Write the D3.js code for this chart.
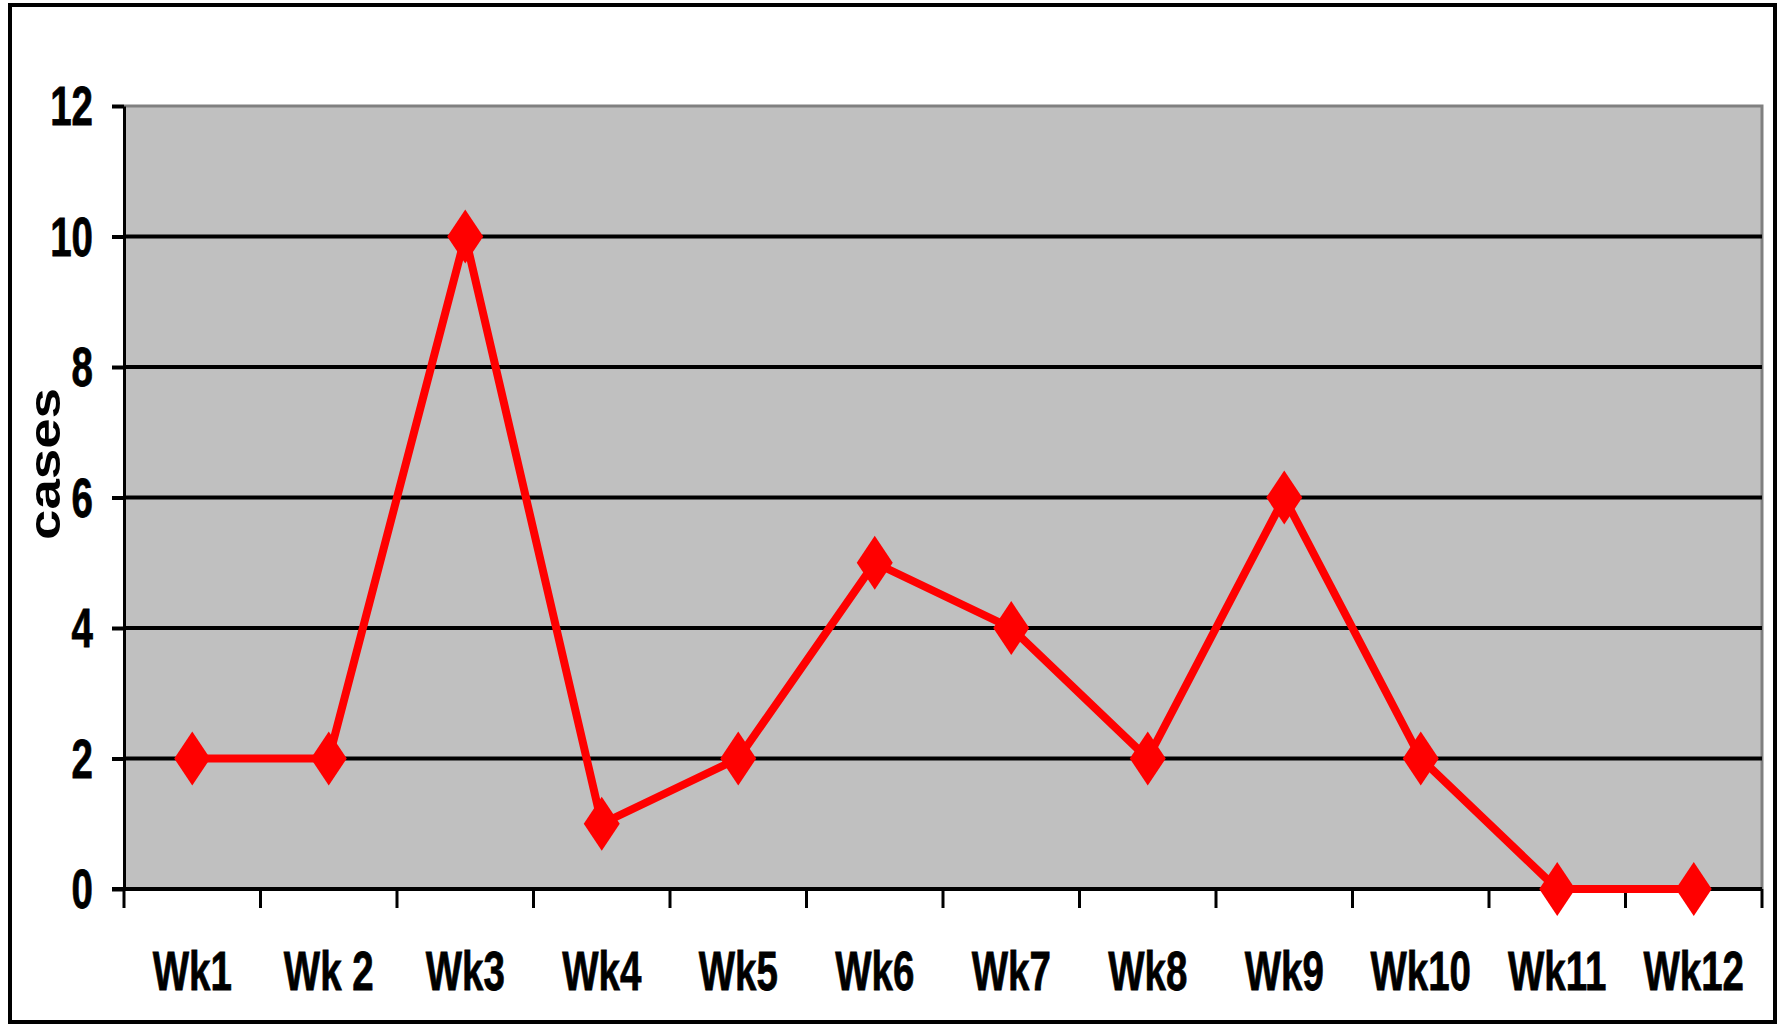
<!DOCTYPE html>
<html>
<head>
<meta charset="utf-8">
<script src="https://cdn.jsdelivr.net/npm/d3@7"></script>
<style>
  body { margin: 0; background: #fff; }
  svg { display: block; }
  text { font-family: "Liberation Sans", Arial, sans-serif; font-weight: bold; fill: #000; }
</style>
</head>
<body>
<svg width="1783" height="1024"></svg>
<script>
// data
const weeks = ["Wk1", "Wk 2", "Wk3", "Wk4", "Wk5", "Wk6", "Wk7", "Wk8", "Wk9", "Wk10", "Wk11", "Wk12"];
const cases = [2, 2, 10, 1, 2, 5, 4, 2, 6, 2, 0, 0];
const yTicks = [0, 2, 4, 6, 8, 10, 12];

const svg = d3.select("svg");
const squeeze = 0.7; // narrow look of the original labels

// plot box
const plotL = 124, plotR = 1762, plotT = 106, plotB = 889;

// outer frame
svg.append("rect")
  .attr("x", 10).attr("y", 5)
  .attr("width", 1765).attr("height", 1017)
  .attr("fill", "none")
  .attr("stroke", "#000")
  .attr("stroke-width", 4);

const x = d3.scaleBand().domain(weeks).range([plotL, plotR]);
const y = d3.scaleLinear().domain([0, 12]).range([plotB, plotT]);

// grey plot area
svg.append("rect")
  .attr("x", plotL).attr("y", plotT)
  .attr("width", plotR - plotL).attr("height", plotB - plotT)
  .attr("fill", "#c0c0c0");

// top + right edge of plot area
svg.append("path")
  .attr("d", `M${plotL},${plotT}H${plotR}V${plotB}`)
  .attr("fill", "none")
  .attr("stroke", "#808080")
  .attr("stroke-width", 3);

// gridlines
svg.append("g")
  .selectAll("line")
  .data(yTicks.filter(d => d > 0 && d < 12))
  .enter().append("line")
    .attr("x1", plotL).attr("x2", plotR)
    .attr("y1", d => y(d)).attr("y2", d => y(d))
    .attr("stroke", "#000")
    .attr("stroke-width", 4);

// y axis (labels drawn separately so they can be squeezed)
const yAxis = svg.append("g")
  .attr("transform", `translate(${plotL},0)`)
  .call(d3.axisLeft(y).tickValues(yTicks).tickSize(12).tickFormat("").tickSizeOuter(0));
yAxis.select(".domain").attr("stroke", "#000").attr("stroke-width", 3);
yAxis.selectAll(".tick line").attr("stroke", "#000").attr("stroke-width", 4);

svg.append("g")
  .selectAll("text")
  .data(yTicks)
  .enter().append("text")
    .attr("transform", d => `translate(93,${y(d) + 19}) scale(${squeeze},1)`)
    .attr("text-anchor", "end")
    .attr("font-size", 55)
    .attr("stroke", "#000")
    .attr("stroke-width", 0.8)
    .text(d => d);

// x axis: ticks at band edges
const xAxis = svg.append("g");
xAxis.append("line")
  .attr("x1", plotL - 12).attr("x2", plotR)
  .attr("y1", plotB).attr("y2", plotB)
  .attr("stroke", "#000").attr("stroke-width", 4);
const edges = weeks.map(w => x(w)).concat([plotR]);
xAxis.selectAll(".xt")
  .data(edges)
  .enter().append("line")
    .attr("class", "xt")
    .attr("x1", d => d).attr("x2", d => d)
    .attr("y1", plotB).attr("y2", plotB + 19)
    .attr("stroke", "#000").attr("stroke-width", 3);
xAxis.selectAll(".xl")
  .data(weeks)
  .enter().append("text")
    .attr("class", "xl")
    .attr("transform", d => `translate(${x(d) + x.bandwidth() / 2},990) scale(${squeeze},1)`)
    .attr("text-anchor", "middle")
    .attr("font-size", 55)
    .attr("stroke", "#000")
    .attr("stroke-width", 0.8)
    .text(d => d);

// axis title
svg.append("text")
  .attr("transform", "translate(60,464) rotate(-90) scale(1,0.85)")
  .attr("text-anchor", "middle")
  .attr("font-size", 52)
  .attr("textLength", 152)
  .attr("lengthAdjust", "spacingAndGlyphs")
  .text("cases");

// series line
const line = d3.line()
  .x((d, i) => x(weeks[i]) + x.bandwidth() / 2)
  .y(d => y(d));

svg.append("path")
  .datum(cases)
  .attr("d", line)
  .attr("fill", "none")
  .attr("stroke", "#ff0000")
  .attr("stroke-width", 8)
  .attr("stroke-linejoin", "round");

// diamond markers
const hw = 18, hh = 27;
svg.append("g")
  .selectAll("path")
  .data(cases)
  .enter().append("path")
    .attr("transform", (d, i) => `translate(${x(weeks[i]) + x.bandwidth() / 2},${y(d)})`)
    .attr("d", `M0,${-hh}L${hw},0L0,${hh}L${-hw},0Z`)
    .attr("fill", "#ff0000");
</script>
</body>
</html>
